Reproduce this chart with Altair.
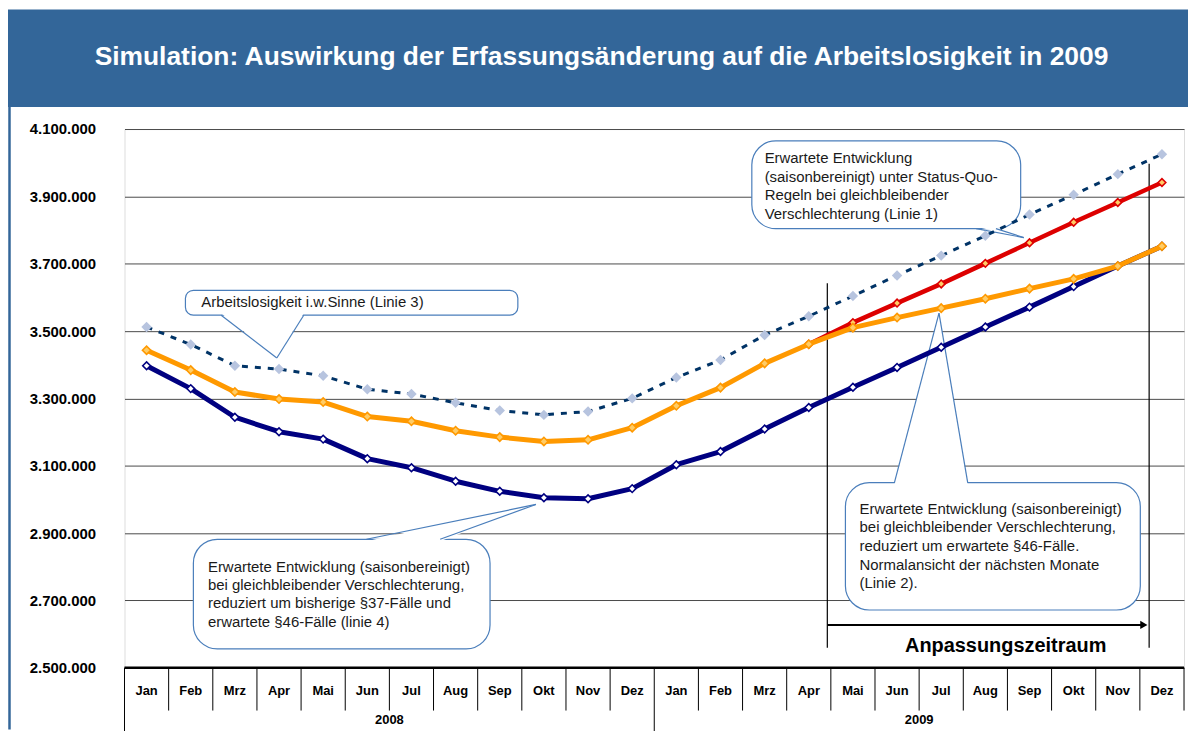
import altair as alt
import pandas as pd

FONT = "Liberation Sans"

months = ["Jan", "Feb", "Mrz", "Apr", "Mai", "Jun", "Jul", "Aug", "Sep", "Okt", "Nov", "Dez"] * 2
years = ["2008", "2009"]
year_pos = [5.5, 17.5]

# Linie 3: Arbeitslosigkeit i.w.Sinne (dashed, light diamonds)
linie3 = [3512000, 3460000, 3397000, 3387000, 3367000, 3327000, 3313000, 3287000,
          3264000, 3251000, 3261000, 3300000, 3362000, 3414000, 3488000, 3544000,
          3604000, 3665000, 3724000, 3783000, 3846000, 3905000, 3966000, 4025000]
# Linie 2: orange
linie2 = [3443000, 3384000, 3319000, 3298000, 3289000, 3246000, 3232000, 3204000,
          3185000, 3172000, 3177000, 3213000, 3278000, 3332000, 3404000, 3461000,
          3510000, 3540000, 3568000, 3596000, 3626000, 3655000, 3693000, 3752000]
# Linie 1: red (Status-Quo), from Apr 2009
linie1 = [None] * 15 + [3461000, 3525000, 3583000, 3640000, 3701000, 3762000,
                        3823000, 3882000, 3941000]
# Linie 4: navy
linie4 = [3397000, 3329000, 3244000, 3201000, 3179000, 3121000, 3094000, 3054000,
          3024000, 3005000, 3002000, 3032000, 3103000, 3142000, 3209000, 3273000,
          3333000, 3392000, 3452000, 3512000, 3571000, 3632000, 3693000, 3752000]

y_ticks = [2500000, 2700000, 2900000, 3100000, 3300000, 3500000, 3700000, 3900000, 4100000]

title_text = "Simulation: Auswirkung der Erfassungsänderung auf die Arbeitslosigkeit in 2009"

# Callouts (positions in month-index / value units)
callout_small = dict(x1=0.88, x2=8.41, y1=3547000, y2=3621000)
callout_boxes = [
    dict(x1=13.71, x2=19.80, y1=3804000, y2=4064500),
    dict(x1=1.06, x2=7.78, y1=2556000, y2=2881500),
    dict(x1=15.83, x2=22.51, y1=2671500, y2=3050000),
]
# wedge: base x1, base x2, base y, inner y, apex x, apex y
wedges = [
    (1.69, 3.56, 3547000, 3553000, 2.95, 3420000),
    (18.79, 19.24, 3804000, 3810000, 19.87, 3777600),
    (4.98, 6.65, 2881500, 2875500, 8.82, 2985000),
    (16.94, 18.60, 3050000, 3044000, 17.95, 3553000),
]
callout_lines = [
    (1.24, 3585400, "Arbeitslosigkeit i.w.Sinne (Linie 3)"),
    (14.0, 4014200, "Erwartete Entwicklung"),
    (14.0, 3958000, "(saisonbereinigt) unter Status-Quo-"),
    (14.0, 3904800, "Regeln bei gleichbleibender"),
    (14.0, 3848600, "Verschlechterung (Linie 1)"),
    (1.39, 2798700, "Erwartete Entwicklung (saisonbereinigt)"),
    (1.39, 2745500, "bei gleichbleibender Verschlechterung,"),
    (1.39, 2692200, "reduziert um bisherige §37-Fälle und"),
    (1.39, 2636000, "erwartete §46-Fälle (linie 4)"),
    (16.15, 2970200, "Erwartete Entwicklung (saisonbereinigt)"),
    (16.15, 2917000, "bei gleichbleibender Verschlechterung,"),
    (16.15, 2860800, "reduziert um erwartete §46-Fälle."),
    (16.15, 2804600, "Normalansicht der nächsten Monate"),
    (16.15, 2751400, "(Linie 2)."),
]

# Anpassungszeitraum markers
period_start, period_end = 15.42, 22.71
vlines = [(15.42, 3641600, 2559100), (22.71, 3996500, 2559100)]
arrow_y = 2627200
period_label = ("Anpassungszeitraum", 19.46, 2565000)

W, H = 1064, 541
idx = list(range(24))

xs = alt.Scale(domain=[-0.5, 23.5], nice=False, zero=False)
ys = alt.Scale(domain=[2500000, 4100000], nice=False, zero=False)
yaxis = alt.Axis(values=y_ticks, title=None, ticks=False, domain=False, grid=True,
                 gridColor="#4a4a4a", gridWidth=1, labelFontSize=15,
                 labelFontWeight="bold", labelColor="black", labelFont=FONT,
                 labelPadding=29,
                 labelExpr="replace(replace(format(datum.value, ','), ',', '.'), ',', '.')")


def X(f):
    return alt.X(f, type="quantitative", scale=xs, axis=None)


def Y(f):
    return alt.Y(f, type="quantitative", scale=ys, axis=yaxis)


one = pd.DataFrame({"a": [0]})
CALLOUT_STROKE = "#4A7EBB"

layers = []

# title bar
layers.append(alt.Chart(one).mark_rect(color="#336699").encode(
    x=alt.value(-117), x2=alt.value(1068), y=alt.value(-120), y2=alt.value(-22)))
layers.append(alt.Chart(one).mark_text(
    text=title_text, font=FONT, fontSize=26.5, fontWeight="bold", color="white",
    align="center", baseline="middle").encode(x=alt.value(479), y=alt.value(-72)))
layers.append(alt.Chart(one).mark_rule(color="#336699", strokeWidth=2.5).encode(
    x=alt.value(-115.5), y=alt.value(-22), y2=alt.value(603)))

# callout boxes
cs = pd.DataFrame([callout_small])
layers.append(alt.Chart(cs).mark_rect(fill="white", stroke=CALLOUT_STROKE, strokeWidth=1.2,
                                      cornerRadius=8).encode(
    x=X("x1"), x2="x2", y=Y("y1"), y2="y2"))
cb = pd.DataFrame(callout_boxes)
layers.append(alt.Chart(cb).mark_rect(fill="white", stroke=CALLOUT_STROKE, strokeWidth=1.2,
                                      cornerRadius=24).encode(
    x=X("x1"), x2="x2", y=Y("y1"), y2="y2"))

# wedge fills
wrows = []
for k, (bx1, bx2, by, iy, ax, ay) in enumerate(wedges):
    wrows.append({"id": k, "y": iy, "xa": bx1, "xb": bx2})
    wrows.append({"id": k, "y": ay, "xa": ax, "xb": ax})
wdf = pd.DataFrame(wrows)
layers.append(alt.Chart(wdf).mark_area(orient="horizontal", color="white", opacity=1).encode(
    y=Y("y"), x=X("xa"), x2="xb", detail="id:N"))
# wedge edges
lrows = []
for bx1, bx2, by, iy, ax, ay in wedges:
    lrows.append({"x": bx1, "y": by, "x2": ax, "y2": ay})
    lrows.append({"x": bx2, "y": by, "x2": ax, "y2": ay})
ldf = pd.DataFrame(lrows)
layers.append(alt.Chart(ldf).mark_rule(color=CALLOUT_STROKE, strokeWidth=1.2).encode(
    x=X("x"), y=Y("y"), x2="x2", y2="y2"))

# callout texts
tdf = pd.DataFrame(callout_lines, columns=["x", "y", "t"])
layers.append(alt.Chart(tdf).mark_text(font=FONT, fontSize=15, color="#1a1a1a",
                                       align="left", baseline="middle").encode(
    x=X("x"), y=Y("y"), text="t:N"))

# period vertical lines
vdf = pd.DataFrame(vlines, columns=["x", "y", "y2"])
layers.append(alt.Chart(vdf).mark_rule(color="black", strokeWidth=1.2).encode(
    x=X("x"), y=Y("y"), y2="y2"))


def series(values, line_color, width, fill, stroke, size, sw, dash=None):
    df = pd.DataFrame({"i": idx, "v": values}).dropna()
    lk = dict(color=line_color, strokeWidth=width, strokeJoin="round")
    if dash:
        lk["strokeDash"] = dash
    line = alt.Chart(df).mark_line(**lk).encode(x=X("i"), y=Y("v"))
    pk = dict(shape="diamond", filled=True, fill=fill, size=size, opacity=1)
    if stroke:
        pk["stroke"] = stroke
        pk["strokeWidth"] = sw
    else:
        pk["strokeWidth"] = 0
    pts = alt.Chart(df).mark_point(**pk).encode(x=X("i"), y=Y("v"))
    return [line, pts]


layers += series(linie3, "#003366", 3, "#B7C4DF", None, 110, 0, dash=[6, 7])
layers += series(linie4, "#000080", 5, "white", "#000080", 60, 1.6)
layers += series(linie1, "#DD0000", 4.5, "#FFCC66", "#DD0000", 60, 1.6)
layers += series(linie2, "#FF9900", 5, "#FFCC66", "#FF9900", 70, 1.6)

# arrow
adf = pd.DataFrame({"x": [period_start], "x2": [period_end - 0.17], "y": [arrow_y]})
layers.append(alt.Chart(adf).mark_rule(color="black", strokeWidth=2).encode(
    x=X("x"), x2="x2", y=Y("y")))
ahd = pd.DataFrame({"x": [period_end - 0.12], "y": [arrow_y]})
layers.append(alt.Chart(ahd).mark_point(shape="triangle-right", filled=True, color="black",
                                        size=70, opacity=1).encode(x=X("x"), y=Y("y")))
pdf = pd.DataFrame({"t": [period_label[0]], "x": [period_label[1]], "y": [period_label[2]]})
layers.append(alt.Chart(pdf).mark_text(font=FONT, fontSize=20, fontWeight="bold",
                                       color="black", align="center", baseline="middle").encode(
    x=X("x"), y=Y("y"), text="t:N"))

# x-axis: thick baseline, month labels, separators, years
layers.append(alt.Chart(one).mark_rule(color="black", strokeWidth=2.5).encode(
    x=alt.value(0), x2=alt.value(W), y=alt.value(H)))
mdf = pd.DataFrame({"i": idx, "m": months})
layers.append(alt.Chart(mdf).mark_text(font=FONT, fontSize=13, fontWeight="bold",
                                       color="black", baseline="middle").encode(
    x=X("i"), y=alt.value(H + 23), text="m:N"))
short_sep = pd.DataFrame({"x": [i + 0.5 for i in range(23) if i != 11] + [23.5]})
layers.append(alt.Chart(short_sep).mark_rule(color="black", strokeWidth=1).encode(
    x=X("x"), y=alt.value(H), y2=alt.value(H + 43)))
long_sep = pd.DataFrame({"x": [-0.5, 11.5]})
layers.append(alt.Chart(long_sep).mark_rule(color="black", strokeWidth=1).encode(
    x=X("x"), y=alt.value(H), y2=alt.value(H + 66)))
ydf = pd.DataFrame({"x": year_pos, "t": years})
layers.append(alt.Chart(ydf).mark_text(font=FONT, fontSize=13, fontWeight="bold",
                                       color="black", baseline="middle").encode(
    x=X("x"), y=alt.value(H + 53), text="t:N"))

chart = alt.layer(*layers).properties(
    width=W, height=H,
    padding={"left": 117, "top": 120, "right": 4, "bottom": 62},
    autosize=alt.AutoSizeParams(type="none"),
    background="white",
).configure_view(stroke="black", strokeWidth=1.3).configure(font=FONT)

chart.save("out.html", embed_options={"renderer": "svg", "actions": False})
